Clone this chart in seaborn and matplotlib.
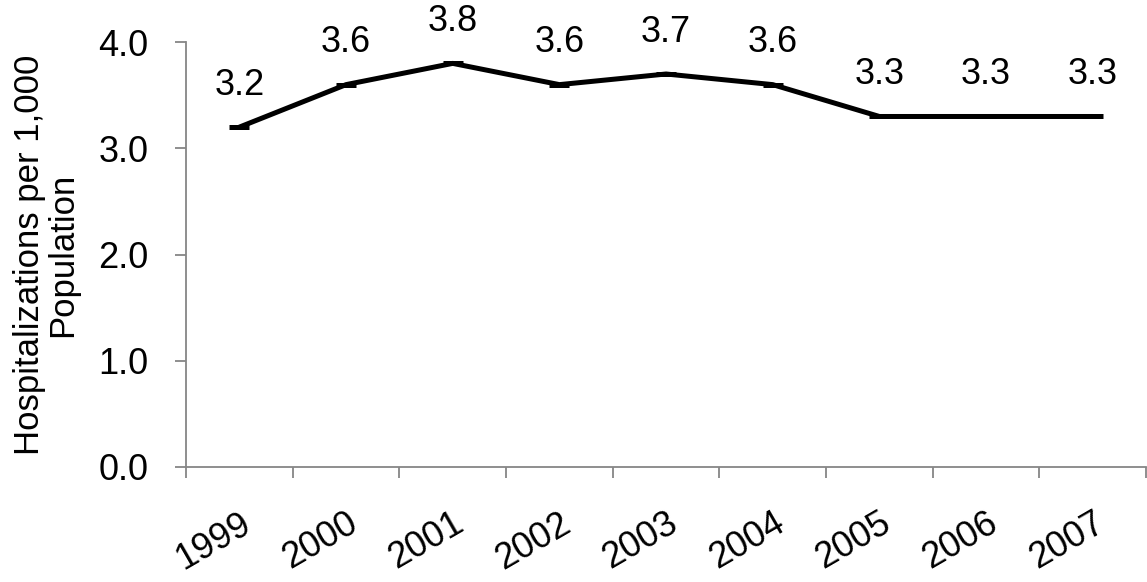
import numpy as np
import pandas as pd
import matplotlib
matplotlib.use("Agg")
import matplotlib.pyplot as plt
import seaborn as sns

years = ["1999", "2000", "2001", "2002", "2003", "2004", "2005", "2006", "2007"]
rates = [3.2, 3.6, 3.8, 3.6, 3.7, 3.6, 3.3, 3.3, 3.3]

sns.set_style("white")
plt.rcParams['font.family'] = ['Liberation Sans', 'DejaVu Sans']
plt.rcParams['text.color'] = 'black'
plt.rcParams['axes.labelcolor'] = 'black'
plt.rcParams['xtick.labelcolor'] = 'black'
plt.rcParams['ytick.labelcolor'] = 'black'

df = pd.DataFrame({"pos": np.arange(len(years)), "rate": rates})

fig = plt.figure(figsize=(11.47, 5.82), dpi=100)
ax = fig.add_axes([0.1622, 0.1976, 0.837, 0.730])

sns.lineplot(data=df, x="pos", y="rate", ax=ax, color="black", linewidth=3.6,
             marker="_", markersize=15, markeredgewidth=3.6, markeredgecolor="black")

for x, y in zip(df["pos"], df["rate"]):
    ax.annotate(f"{y:.1f}", (x, y), xytext=(0, 30), textcoords="offset points",
                ha="center", va="center", fontsize=26, color="black")

ax.set_xlim(-0.5, len(years) - 0.5)
ax.set_ylim(0, 4.0)
ax.set_yticks([0, 1, 2, 3, 4])
ax.set_yticklabels([f"{v:.1f}" for v in [0, 1, 2, 3, 4]], fontsize=26)
ax.set_xticks(np.arange(len(years)))
ax.set_xticklabels(years, fontsize=26, rotation=30, ha="right", rotation_mode="anchor")
ax.set_xticks(np.arange(len(years) + 1) - 0.5, minor=True)
ax.tick_params(axis="x", which="major", length=0, pad=28, bottom=True)
ax.tick_params(axis="x", which="minor", length=8, color="#868686", width=1.3,
               direction="out", bottom=True)
ax.tick_params(axis="y", length=8, color="#868686", width=1.3, direction="out",
               pad=19, left=True)
ax.set_xlabel("")
ax.set_ylabel("Hospitalizations per 1,000\nPopulation", fontsize=25, labelpad=14,
              linespacing=1.0, color="black")

for s in ["top", "right"]:
    ax.spines[s].set_visible(False)
for s in ["left", "bottom"]:
    ax.spines[s].set_color("#868686")
    ax.spines[s].set_linewidth(1.3)

fig.savefig("out.png", dpi=100)
